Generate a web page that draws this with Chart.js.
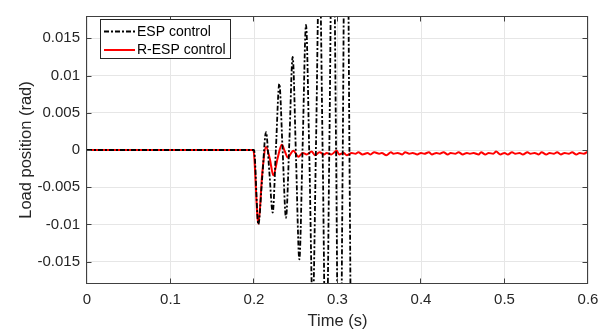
<!DOCTYPE html>
<html><head><meta charset="utf-8">
<script src="https://cdn.jsdelivr.net/npm/chart.js@4"></script>
<style>html,body{margin:0;padding:0;background:#fff}canvas{display:block}</style>
</head><body>
<canvas id="c" width="610" height="333"></canvas>
<script>
// ---- data ----
const seriesLabels = ['ESP control', 'R-ESP control'];

// ESP control (black dash-dot): peaks / dips / crossings
const espTime = [0, 0.2000, 0.2052, 0.2098, 0.2144, 0.2184, 0.2224, 0.2263, 0.2303, 0.2343,
  0.2383, 0.2423, 0.2463, 0.2503, 0.2543, 0.2583, 0.2623, 0.2663, 0.2703, 0.2743,
  0.2783, 0.2823, 0.2863, 0.2903, 0.2943, 0.2983, 0.3023, 0.3063, 0.3103, 0.3143, 0.3175];
const espValue = [0, 0, -0.0100, -0.0038, 0.0024, -0.0030, -0.0084, 0.0003, 0.0089, -0.0001,
  -0.0091, 0.0010, 0.0125, -0.0010, -0.0147, 0.0008, 0.0168, -0.0010, -0.0215, 0.0010,
  0.0260, -0.0010, -0.0320, 0.0010, 0.0390, 0.0000, -0.0470, 0.0000, 0.0560, 0.0000, -0.0500];

// R-ESP control (red solid)
const respTime = [0, 0.1992, 0.2052, 0.2100, 0.2144, 0.2190, 0.2231, 0.2285, 0.2332, 0.2370,
  0.2404, 0.2471, 0.2531, 0.2585, 0.2630, 0.2690, 0.2730, 0.2785, 0.2840, 0.2870,
  0.2925, 0.2990, 0.3020, 0.3075, 0.3110, 0.3170, 0.3215, 0.3250, 0.3300, 0.3360,
  0.3395, 0.3440, 0.3500, 0.3530, 0.3585, 0.3640, 0.3670, 0.3720, 0.3775, 0.3810,
  0.3860, 0.3900, 0.3955, 0.4000, 0.4040, 0.4095, 0.4130, 0.4185, 0.4225, 0.4270,
  0.4320, 0.4355, 0.4410, 0.4450, 0.4500, 0.4550, 0.4585, 0.4630, 0.4690, 0.4720,
  0.4770, 0.4810, 0.4865, 0.4900, 0.4950, 0.5000, 0.5040, 0.5090, 0.5130, 0.5180,
  0.5220, 0.5275, 0.5310, 0.5360, 0.5410, 0.5445, 0.5500, 0.5540, 0.5590, 0.5630,
  0.5675, 0.5720, 0.5770, 0.5810, 0.5860, 0.5900, 0.5950, 0.6000];
const respValue = [0, 0, -0.0099, -0.0030, 0.0004, -0.0012, -0.0034, -0.0010, 0.0007, -0.0002,
  -0.0010, -0.0001, -0.0009, -0.0004, -0.0006, -0.0002, -0.0007, -0.0003, -0.0006, -0.0004,
  -0.0006, -0.0001, -0.0006, -0.0004, -0.0007, -0.0004, -0.0005, -0.0003, -0.0006, -0.0004,
  -0.0006, -0.0003, -0.0005, -0.0004, -0.0007, -0.0003, -0.0005, -0.0004, -0.0006, -0.0003,
  -0.0005, -0.0004, -0.0006, -0.0004, -0.0005, -0.0003, -0.0006, -0.0004, -0.0005, -0.0003,
  -0.0006, -0.0004, -0.0005, -0.0003, -0.0006, -0.0004, -0.0005, -0.0004, -0.0006, -0.0003,
  -0.0006, -0.0004, -0.0005, -0.0002, -0.0006, -0.0004, -0.0006, -0.0003, -0.0005, -0.0004,
  -0.0006, -0.0003, -0.0005, -0.0004, -0.0006, -0.0003, -0.0006, -0.0004, -0.0005, -0.0003,
  -0.0006, -0.0004, -0.0005, -0.0003, -0.0006, -0.0004, -0.0005, -0.0002];

const xTicks = [0, 0.1, 0.2, 0.3, 0.4, 0.5, 0.6];
const xTickLabels = ['0', '0.1', '0.2', '0.3', '0.4', '0.5', '0.6'];
const yTicks = [-0.015, -0.01, -0.005, 0, 0.005, 0.01, 0.015];
const yTickLabels = ['-0.015', '-0.01', '-0.005', '0', '0.005', '0.01', '0.015'];
const xTitle = 'Time (s)';
const yTitle = 'Load position (rad)';

// ---- styling ----
const FONT = "'Liberation Sans', Arial, Helvetica, sans-serif";
const TXT = '#262626';
const GRID = '#e6e6e6';
const ESP_DASH = [5, 2, 2, 2];

const toXY = (xs, ys) => xs.map((x, i) => ({x: x, y: ys[i]}));

const boxPlugin = {
  id: 'boxPlugin',
  afterDatasetsDraw(chart) {
    const {ctx, chartArea: a, scales} = chart;
    ctx.save();
    ctx.strokeStyle = '#404040';
    ctx.lineWidth = 1;
    const L = Math.round(a.left) - 0.5, R = Math.round(a.right) - 0.5;
    const T = Math.round(a.top) + 0.5, B = Math.round(a.bottom) - 0.5;
    ctx.strokeRect(L, T, R - L, B - T);
    ctx.beginPath();
    const tl = 5;
    xTicks.forEach(v => {
      const px = Math.round(scales.x.getPixelForValue(v)) - 0.5;
      ctx.moveTo(px, B); ctx.lineTo(px, B - tl);
      ctx.moveTo(px, T); ctx.lineTo(px, T + tl);
    });
    yTicks.forEach(v => {
      const py = Math.round(scales.y.getPixelForValue(v)) + 0.5;
      ctx.moveTo(L, py); ctx.lineTo(L + tl, py);
      ctx.moveTo(R, py); ctx.lineTo(R - tl, py);
    });
    ctx.stroke();
    ctx.restore();
  }
};

const legendPlugin = {
  id: 'legendPlugin',
  afterDraw(chart) {
    const ctx = chart.ctx;
    const bx = 100.5, by = 19.5, bw = 130, bh = 39;
    ctx.save();
    ctx.fillStyle = '#fff';
    ctx.fillRect(bx, by, bw, bh);
    ctx.strokeStyle = '#262626';
    ctx.lineWidth = 1;
    ctx.strokeRect(bx, by, bw, bh);
    const rows = [31.5, 50];
    chart.data.datasets.forEach((ds, i) => {
      const y = rows[i];
      ctx.beginPath();
      ctx.strokeStyle = ds.borderColor;
      ctx.lineWidth = ds.borderWidth;
      ctx.setLineDash(ds.borderDash || []);
      ctx.moveTo(104, y); ctx.lineTo(135, y);
      ctx.stroke();
      ctx.setLineDash([]);
      ctx.fillStyle = '#000';
      ctx.font = '14px ' + FONT;
      ctx.textBaseline = 'middle';
      ctx.textAlign = 'left';
      ctx.fillText(ds.label, 137, y + 0.5);
    });
    ctx.restore();
  }
};

new Chart(document.getElementById('c'), {
  type: 'line',
  data: {
    datasets: [
      {
        label: seriesLabels[0],
        data: toXY(espTime, espValue),
        borderColor: '#000000',
        borderWidth: 1.8,
        borderDash: ESP_DASH,
        pointRadius: 0,
        fill: false,
        cubicInterpolationMode: 'monotone',
        clip: 0
      },
      {
        label: seriesLabels[1],
        data: toXY(respTime, respValue),
        borderColor: '#ff0000',
        borderWidth: 2,
        pointRadius: 0,
        fill: false,
        cubicInterpolationMode: 'monotone',
        clip: 0
      }
    ]
  },
  options: {
    responsive: false,
    animation: false,
    devicePixelRatio: 1,
    layout: {padding: {left: 0, right: 22, top: 7, bottom: 0}},
    plugins: {legend: {display: false}, tooltip: {enabled: false}},
    scales: {
      x: {
        type: 'linear', min: 0, max: 0.6,
        afterBuildTicks: s => { s.ticks = xTicks.map(v => ({value: v})); },
        afterFit: s => { s.height = 49; },
        grid: {color: GRID, drawTicks: false, lineWidth: 1},
        border: {display: false},
        ticks: {
          color: TXT, padding: 7, maxRotation: 0, autoSkip: false,
          font: {family: FONT, size: 15},
          callback: (v, i) => xTickLabels[i]
        },
        title: {display: true, text: xTitle, color: TXT, font: {family: FONT, size: 16.5}, padding: {top: 0, bottom: 2}}
      },
      y: {
        type: 'linear', min: -0.018, max: 0.018,
        afterBuildTicks: s => { s.ticks = yTicks.map(v => ({value: v})); },
        afterFit: s => { s.width = 87; },
        grid: {color: GRID, drawTicks: false, lineWidth: 1},
        border: {display: false},
        ticks: {
          color: TXT, padding: 7, autoSkip: false,
          font: {family: FONT, size: 15},
          callback: (v, i) => yTickLabels[i]
        },
        title: {display: true, text: yTitle, color: TXT, font: {family: FONT, size: 16.5}, padding: {top: 17, bottom: 0}}
      }
    }
  },
  plugins: [boxPlugin, legendPlugin]
});
</script>
</body></html>
